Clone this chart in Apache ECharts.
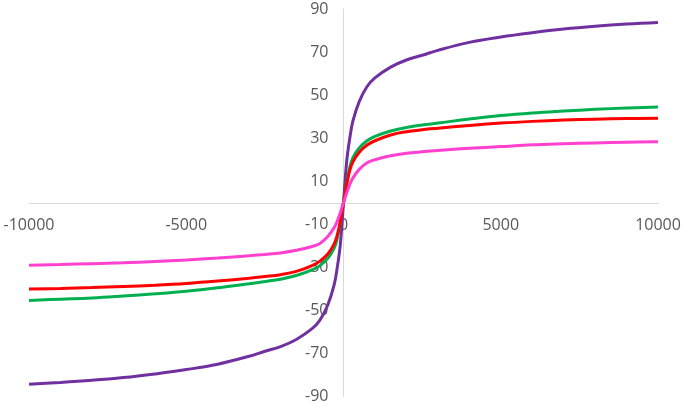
<!DOCTYPE html>
<html>
<head>
<meta charset="utf-8">
<script src="https://cdn.jsdelivr.net/npm/echarts@6/dist/echarts.min.js"></script>
<style>
  html, body { margin: 0; padding: 0; background: #fff; }
  #chart { width: 685px; height: 406px; }
</style>
</head>
<body>
<div id="chart"></div>
<script>
const xs = [-10000, -9000, -8000, -7000, -6000, -5000, -4000, -3000, -2500, -2000, -1500, -1000, -750, -500, -300, -200, -100,
  0, 100, 200, 300, 500, 750, 1000, 1500, 2000, 2500, 3000, 4000, 5000, 6000, 7000, 8000, 9000, 10000];

const purple = [-84.3, -83.5, -82.5, -81.2, -79.5, -77.5, -75, -71.3, -69, -66.8, -63.5, -58.5, -54.5, -47.5, -38.3, -30.2, -19.2,
  0, 19, 30, 38, 47, 54, 58, 63, 66.3, 68.5, 70.8, 74.5, 77, 79, 80.7, 82, 83, 83.7];
const green = [-45.4, -44.8, -44.2, -43.3, -42.3, -41.1, -39.5, -37.6, -36.6, -35.5, -33.8, -31.2, -29.2, -25.8, -21.2, -16.6, -9.1,
  0, 9, 16.5, 21, 25.5, 28.8, 30.8, 33.3, 35, 36.1, 37, 38.9, 40.5, 41.7, 42.6, 43.4, 44, 44.5];
const red = [-40.1, -39.8, -39.4, -38.9, -38.3, -37.5, -36.4, -35.1, -34.3, -33.4, -31.9, -29.2, -27.1, -23.8, -19.2, -15.1, -8.6,
  0, 8.5, 15, 19, 23.5, 26.8, 28.8, 31.5, 33, 33.9, 34.6, 35.9, 37, 37.8, 38.4, 38.8, 39.1, 39.3];
const pink = [-29, -28.7, -28.3, -27.9, -27.3, -26.6, -25.7, -24.6, -24, -23.3, -22.1, -20.3, -18.9, -15.7, -11.6, -8.6, -4.5,
  0, 4.5, 8.5, 11.5, 15.5, 18.6, 20, 21.8, 23, 23.7, 24.3, 25.3, 26.1, 26.9, 27.4, 27.8, 28.1, 28.3];

const xTicks = [-10000, -5000, 0, 5000, 10000];
const yTicks = [-90, -70, -50, -30, -10, 10, 30, 50, 70, 90];

const W = 685, H = 406;
const G = { left: 29, right: 27, top: 9, bottom: 9.5 };
// axes cross at the origin, which sits in the middle of the plot
const yAxisOffset = -(W - G.left - G.right) / 2;
const xAxisOffset = -(H - G.top - G.bottom) / 2;

const chart = echarts.init(document.getElementById("chart"));

const labelStyle = { color: "#595959", fontSize: 16, fontFamily: "Open Sans" };
const lineOf = (name, vals, color) => ({
  name: name,
  type: "line",
  data: xs.map((x, i) => [x, vals[i]]),
  smooth: 0.4,
  showSymbol: false,
  lineStyle: { color: color, width: 3 },
  itemStyle: { color: color },
  animation: false
});

chart.setOption({
  animation: false,
  grid: Object.assign({ outerBoundsMode: "none", containLabel: false }, G),
  xAxis: {
    type: "value",
    position: "bottom",
    offset: xAxisOffset,
    min: -10000,
    max: 10000,
    interval: 5000,
    axisLine: { onZero: false, lineStyle: { color: "#d9d9d9", width: 1 } },
    axisTick: { show: false },
    splitLine: { show: false },
    axisLabel: Object.assign({ margin: 15, hideOverlap: false, formatter: v => (xTicks.includes(v) ? String(v) : "") }, labelStyle)
  },
  yAxis: {
    type: "value",
    position: "left",
    offset: yAxisOffset,
    min: -90,
    max: 90,
    interval: 10,
    axisLine: { show: true, onZero: false, lineStyle: { color: "#d9d9d9", width: 1 } },
    axisTick: { show: false },
    splitLine: { show: false },
    axisLabel: Object.assign({ margin: 15, hideOverlap: false, formatter: v => (yTicks.includes(v) ? String(v) : "") }, labelStyle)
  },
  series: [
    lineOf("purple", purple, "#7030A0"),
    lineOf("green", green, "#00B050"),
    lineOf("red", red, "#FF0000"),
    lineOf("pink", pink, "#FF40D0")
  ]
});
</script>
</body>
</html>
